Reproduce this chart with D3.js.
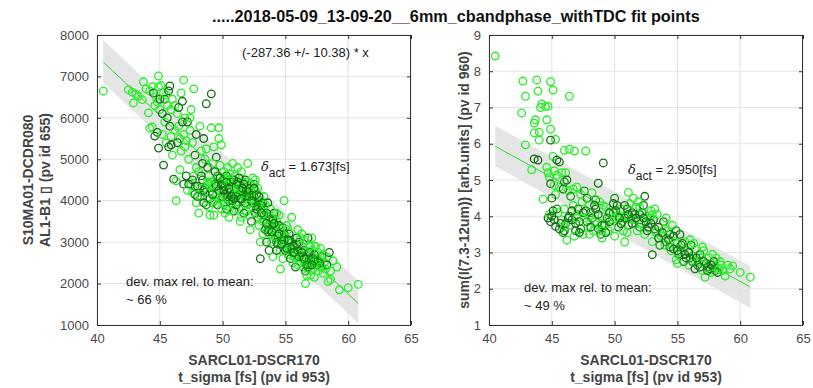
<!DOCTYPE html>
<html>
<head>
<meta charset="utf-8">
<script src="https://cdn.jsdelivr.net/npm/d3@7"></script>
<style>
  body { margin: 0; background: #fff; }
  text { font-family: "Liberation Sans", Arial, sans-serif; }
</style>
</head>
<body>
<div id="chart"></div>
<script>
const W = 813, H = 388;

// shared x ticks
const xTicks = [40, 45, 50, 55, 60, 65];
const leftYTicks = [1000, 2000, 3000, 4000, 5000, 6000, 7000, 8000];
const rightYTicks = [1, 2, 3, 4, 5, 6, 7, 8, 9];

// fit lines and bands (x ends, line, band hi, band lo)
const fitXs = [40.5, 60.8];
const leftFitY = [7350, 1520];
const leftBandHi = [7880, 2060];
const leftBandLo = [6850, 1040];
const rightFitY = [5.93, 2.05];
const rightBandHi = [6.5, 2.62];
const rightBandLo = [5.38, 1.47];

// points: [t_sigma, value, shade] shade 0 = light, 1 = dark, 2 = mid
const leftPoints = [
  [40.5,6650,0],[42.5,6680,0],[42.8,6620,0],[43.1,6570,0],[43.3,6520,0],[42.9,6360,0],[43.6,6440,0],[43.7,6870,0],[43.9,6700,0],[44.1,6120,0],
  [44.2,6650,0],[44.4,6750,0],[44.5,6600,1],[44.7,6500,0],[44.9,7010,0],[44.8,6380,0],[44.6,6300,0],[44.4,5780,0],[44.6,5560,1],[44.9,5270,1],
  [44.2,5750,0],[44.8,5650,1],[45.0,6200,0],[45.0,6450,1],[44.9,6750,0],[45.1,6780,0],[45.3,6600,0],[45.4,6450,1],[45.6,6300,0],[45.8,6770,1],
  [45.5,6550,0],[45.2,6100,1],[45.3,4860,1],[45.5,5400,0],[45.7,5300,1],[45.9,5550,0],[45.6,6000,1],[45.9,6200,0],[45.4,5900,0],[45.8,5800,1],
  [46.0,6450,0],[45.7,6650,1],[45.2,5600,0],[45.9,5350,1],[46.0,5100,0],[46.1,4520,1],[46.3,4480,0],[46.3,4000,0],[46.2,6300,0],[46.4,6100,0],
  [46.5,5800,0],[46.6,5500,0],[46.7,6600,0],[46.9,6910,0],[46.5,6250,1],[46.8,5900,1],[46.9,5600,0],[46.4,5400,1],[46.7,5200,0],[46.6,4750,0],
  [46.9,4400,1],[47.0,6000,0],[46.2,5700,0],[46.8,6400,1],[47.0,5300,0],[47.7,6700,0],[47.5,6200,0],[47.2,5900,1],[47.4,5700,0],[47.6,5400,0],
  [47.8,5100,1],[47.3,5000,0],[47.9,4800,0],[47.1,4600,1],[47.5,4400,0],[47.8,4150,1],[47.6,4200,0],[47.2,4250,0],[47.9,5600,1],[47.4,6000,0],
  [47.1,5450,0],[47.7,4600,0],[48.0,4350,1],[47.9,3950,0],[48.7,6340,1],[48.2,5800,0],[48.5,5500,1],[48.3,5200,0],[48.6,5000,0],[48.8,4800,1],
  [48.1,4700,0],[48.4,4500,1],[48.9,4400,0],[48.2,4300,0],[48.6,4200,1],[48.3,4100,0],[48.8,4050,0],[48.5,3950,1],[48.9,3850,0],[48.1,3700,0],
  [49.0,3650,0],[48.7,5250,0],[48.4,4900,1],[48.9,4600,0],[49.1,6580,1],[49.1,5760,0],[49.7,5760,0],[49.7,5500,0],[49.9,5350,0],[49.3,5300,0],
  [49.5,5050,1],[49.2,4900,0],[49.8,4850,0],[49.4,4700,1],[49.6,4550,0],[49.1,4450,0],[49.9,4400,1],[49.3,4300,0],[49.7,4250,1],[49.5,4150,0],
  [49.0,4050,1],[49.8,4100,0],[49.2,3950,0],[49.6,3900,1],[49.9,3800,0],[49.4,4000,0],[49.3,3650,0],[50.1,4700,0],[50.3,4600,1],[50.5,4500,0],
  [50.7,4450,1],[50.9,4300,0],[50.2,4350,1],[50.4,4250,0],[50.6,4200,1],[50.8,4150,0],[50.0,4100,1],[50.3,4050,0],[50.5,4000,1],[50.7,3950,0],
  [50.9,4050,1],[50.1,3900,0],[50.6,3850,0],[50.4,4800,0],[50.8,4900,0],[50.2,4150,1],[50.9,3750,1],[50.5,3600,0],[50.0,4500,0],[51.1,4400,1],
  [51.3,4300,0],[51.5,4250,1],[51.7,4200,0],[51.9,4100,1],[51.2,4150,0],[51.4,4050,1],[51.6,4000,0],[51.8,3950,1],[51.0,4600,0],[51.5,4700,0],
  [51.8,4500,1],[51.3,3800,0],[51.1,3900,1],[51.6,4450,0],[51.9,3750,0],[52.0,4900,0],[51.4,3500,0],[51.7,3700,1],[51.2,4800,0],[52.1,4300,1],
  [52.3,4200,0],[52.5,4100,1],[52.7,4000,0],[52.9,3900,1],[52.2,4000,0],[52.4,3850,0],[52.6,3700,1],[52.8,3600,0],[52.0,4450,0],[52.5,4400,1],
  [52.8,4300,0],[52.3,3500,1],[52.9,3400,0],[52.7,3800,1],[53.0,4000,0],[52.1,3650,0],[52.6,4500,0],[53.1,3900,1],[53.3,3800,0],[53.5,3700,1],
  [53.7,3600,0],[53.9,3500,1],[53.2,3500,0],[53.4,3300,1],[53.6,3400,0],[53.8,3200,0],[53.0,3000,0],[53.0,2600,1],[53.5,3000,1],[53.8,3800,0],
  [53.3,4100,0],[53.6,3950,1],[53.9,3000,0],[53.2,3200,0],[53.7,2800,1],[54.0,3300,0],[54.1,3700,1],[54.3,3500,0],[54.5,3400,1],[54.7,3300,0],
  [54.9,3200,1],[54.2,3100,0],[54.4,2950,1],[54.6,2800,0],[54.8,3000,0],[54.0,2650,0],[54.6,2350,0],[54.3,2800,1],[54.8,2600,0],[54.5,3650,0],
  [54.9,4000,0],[54.2,3400,0],[55.0,2800,1],[55.1,3400,0],[55.3,3200,1],[55.5,3000,0],[55.7,2900,1],[55.9,2800,0],[55.2,2700,0],[55.4,2600,1],
  [55.6,2500,0],[55.8,2400,1],[55.0,3100,0],[55.5,3600,0],[55.9,3100,1],[55.3,2850,0],[55.7,2650,0],[56.0,3300,0],[56.1,3000,1],[56.3,2900,0],
  [56.5,2800,1],[56.7,2700,0],[56.9,2600,1],[56.2,2500,0],[56.4,2400,0],[56.6,2300,1],[56.8,2500,0],[56.6,2000,0],[56.8,3100,1],[56.3,3200,0],
  [56.9,2900,0],[56.0,2450,0],[56.5,3050,0],[56.7,2200,0],[57.1,2800,0],[57.3,2700,1],[57.5,2600,0],[57.7,2500,1],[57.9,2400,0],[57.2,2350,0],
  [57.4,2900,0],[57.6,2300,0],[57.8,2850,0],[57.0,2200,0],[57.5,2450,1],[57.3,2150,0],[57.9,2650,1],[57.1,3100,0],[57.6,2750,0],[58.1,2500,0],
  [58.3,2650,0],[58.5,2750,1],[58.2,2350,0],[58.4,2050,0],[58.6,2100,0],[58.8,2550,0],[59.1,2400,0],[58.0,2250,0],[59.3,1850,0],[60.0,1900,0],
  [60.8,1980,0],[48.6,4300,2],[49.0,4200,0],[49.4,4400,2],[49.7,4050,0],[50.0,4350,2],[50.2,4550,0],[50.4,4100,1],[50.6,4400,0],[50.8,4000,2],
  [51.0,4250,0],[51.2,4450,2],[51.4,4200,0],[51.6,4300,1],[51.8,4050,0],[52.0,4200,2],[52.2,4400,0],[52.4,3950,2],[52.6,4250,0],[52.8,3850,2],
  [53.0,3650,0],[53.2,3950,2],[53.4,3550,0],[53.6,3250,2],[53.8,3400,0],[54.0,3550,2],[54.2,3250,0],[54.4,3150,2],[54.6,3050,0],[54.8,3350,2],
  [55.0,2950,0],[55.2,3050,2],[55.4,2800,0],[55.6,2750,2],[55.8,2650,0],[56.0,2800,2],[56.2,2700,0],[56.4,2650,2],[56.6,2550,0],[56.8,2400,2],
  [57.0,2550,0],[57.2,2600,2],[57.4,2450,0],[57.6,2550,2],[57.8,2400,0],[49.6,4600,2],[48.8,4450,0],[50.3,3800,2],[51.5,3600,0],[52.2,3300,0],
  [47.8,4350,2],[49.2,4150,1],[49.5,4350,1],[49.8,4550,1],[50.1,4250,1],[50.3,4450,2],[50.5,4300,1],[50.7,4100,1],[50.9,4500,1],[51.1,4100,2],
  [51.3,4550,1],[51.5,4050,1],[51.7,4400,1],[51.9,4250,1],[52.1,4100,2],[52.3,4000,1],[52.5,4300,1],[52.7,4150,2],[52.9,4100,1],[53.1,3700,1],
  [53.3,3650,2],[53.5,3450,1],[53.7,3300,2],[53.9,3250,1],[54.1,3450,1],[54.3,3000,2],[54.5,3200,1],[54.7,2950,1],[54.9,3050,2],[55.1,2850,1],
  [55.3,3050,1],[55.5,2850,2],[55.7,2750,1],[55.9,2950,1],[56.1,2650,2],[56.3,2750,1],[56.5,2600,1],[56.7,2450,2],[56.9,2750,1],[57.1,2450,1],
  [57.3,2550,2],[47.3,4400,1],[47.6,4500,1],[48.0,4100,2],[48.3,4600,1],[48.5,4250,1],[48.7,3900,2],[49.0,4350,0],[50.6,4650,0],[51.0,3800,0],
  [52.0,3900,0],[52.4,4550,0],[53.4,3900,0],[54.3,3700,0],[55.2,3300,0],[56.2,3100,0],[57.0,2900,0],[58.0,2700,0],[58.3,2450,1],[58.6,2300,0],
  [49.9,4000,0],[50.2,3700,0]
];

const rightPoints = [
  [40.5,8.42,0],[42.7,7.73,0],[43.8,7.76,0],[44.9,7.71,0],[43.9,7.45,0],[45.1,7.48,0],[42.9,7.31,0],[46.4,7.31,0],[44.1,7.00,0],[44.2,7.10,0],
  [44.5,7.03,0],[44.7,7.03,0],[42.6,6.85,0],[43.7,6.66,0],[43.6,6.57,0],[44.6,6.66,0],[43.6,6.30,0],[44.0,6.32,0],[44.9,6.40,0],[44.0,6.10,0],
  [45.3,6.12,0],[44.9,6.10,1],[42.9,5.97,0],[43.6,5.58,1],[43.9,5.55,1],[45.1,5.65,0],[45.4,5.55,1],[45.6,5.50,1],[46.0,5.82,0],[46.4,5.85,0],
  [46.8,5.80,0],[47.7,5.80,0],[49.1,5.47,1],[43.4,5.28,0],[44.6,5.35,0],[44.7,5.20,0],[44.8,5.08,0],[45.2,5.25,0],[45.4,5.13,0],[45.8,5.20,0],
  [46.1,5.20,0],[46.2,5.00,1],[44.9,4.90,1],[48.7,4.91,1],[51.1,4.66,0],[52.4,4.55,1],[45.6,4.80,0],[45.9,4.75,1],[46.3,4.70,0],[45.3,4.60,0],
  [46.7,4.75,0],[47.3,4.60,0],[47.8,4.50,1],[45.0,4.50,1],[44.3,4.47,0],[45.2,4.85,0],[46.0,4.95,2],[46.5,4.55,2],[47.0,4.80,0],[47.6,4.70,2],
  [48.2,4.65,0],[48.5,4.45,2],[44.7,3.95,1],[44.9,3.85,1],[45.3,3.72,1],[44.8,4.05,0],[45.1,4.15,1],[45.5,4.10,0],[45.8,3.90,0],[45.6,3.65,1],
  [46.0,4.20,0],[46.2,3.34,0],[46.4,4.00,1],[46.5,3.75,0],[46.7,4.30,0],[46.9,3.60,1],[47.0,4.05,0],[47.2,3.85,1],[47.4,4.40,0],[47.5,3.50,0],
  [47.7,4.15,1],[47.9,3.70,0],[48.0,4.30,0],[48.2,3.95,1],[48.3,3.60,0],[48.5,4.20,1],[48.6,3.80,0],[48.8,4.40,0],[48.9,3.50,1],[49.0,4.00,0],
  [49.2,3.75,1],[49.3,4.25,0],[49.5,3.60,0],[49.6,4.10,1],[49.8,3.90,0],[49.9,4.35,1],[50.0,3.45,0],[50.2,4.00,0],[50.3,3.70,1],[50.5,4.20,0],
  [50.6,3.85,0],[50.8,4.30,1],[50.8,3.29,0],[50.9,4.00,0],[51.1,3.75,1],[51.2,4.35,0],[51.4,4.10,1],[51.5,3.90,0],[51.7,4.25,0],[51.8,3.60,0],
  [52.0,4.05,1],[52.1,3.80,0],[52.3,4.30,1],[52.4,3.50,0],[52.6,4.00,0],[52.7,3.70,1],[52.9,4.15,0],[53.0,3.30,0],[53.0,2.94,1],[53.1,3.90,1],
  [53.3,3.55,0],[45.9,3.55,2],[46.1,3.80,2],[46.8,3.45,0],[47.1,4.20,2],[47.6,3.95,0],[48.1,4.10,2],[48.4,3.85,0],[48.7,3.65,2],[49.1,4.30,0],
  [49.4,3.95,2],[49.7,3.70,0],[50.1,4.15,2],[50.4,3.95,1],[50.7,3.60,0],[51.0,4.20,2],[51.3,3.95,0],[51.6,4.05,1],[51.9,4.40,0],[52.2,4.10,2],
  [52.5,3.85,1],[52.8,3.95,0],[53.2,4.20,0],[48.0,3.50,0],[49.0,3.40,0],[46.6,3.90,1],[47.3,3.65,2],[51.5,4.50,0],[50.0,4.50,2],[53.4,4.05,0],
  [53.5,3.70,1],[53.7,3.45,0],[53.9,3.85,1],[54.0,3.20,0],[54.2,3.60,0],[54.3,3.35,1],[54.5,3.05,0],[54.6,3.75,0],[54.7,3.45,1],[54.9,2.80,0],
  [55.0,3.25,0],[55.2,3.50,1],[55.3,3.00,0],[55.5,2.75,1],[55.6,3.30,0],[55.8,3.05,0],[55.9,2.65,0],[56.1,3.20,1],[56.2,2.90,0],[56.4,2.55,1],
  [56.5,3.10,0],[56.7,2.75,0],[56.8,2.95,1],[57.0,2.50,0],[57.1,3.05,0],[57.3,2.70,1],[57.2,2.32,0],[57.5,2.85,0],[57.6,2.55,1],[57.8,2.95,0],
  [58.0,2.60,0],[58.2,2.45,1],[58.4,2.75,0],[58.6,2.50,0],[58.8,2.35,0],[59.0,2.65,0],[59.4,2.63,0],[60.0,2.45,0],[60.8,2.32,0],[53.6,3.20,2],
  [54.1,3.95,0],[54.4,3.15,2],[54.8,3.30,0],[55.1,2.95,2],[55.4,3.25,1],[56.0,2.85,2],[56.3,3.25,0],[56.6,2.65,2],[56.9,2.85,0],[57.4,2.60,2],
  [57.9,2.75,1],[58.1,2.85,0],[57.7,2.45,0],[55.7,2.85,1],[54.9,3.60,2],[45.0,4.00,1],[45.2,3.90,1],[45.4,4.20,2],[45.7,3.80,1],[46.0,3.60,1],
  [46.3,3.95,1],[46.6,4.15,1],[46.9,3.80,1],[47.2,3.55,1],[47.5,4.10,1],[47.8,3.85,2],[48.1,3.70,1],[48.4,4.30,1],[48.7,4.05,1],[49.0,3.75,2],
  [49.3,3.55,1],[49.6,3.85,1],[49.9,4.10,2],[50.2,4.30,1],[50.5,3.80,1],[50.8,3.95,2],[51.1,4.05,1],[51.4,3.80,1],[51.7,3.95,1],[52.0,3.70,2],
  [52.3,3.95,1],[52.6,3.60,1],[52.9,3.80,1],[53.2,3.65,2],[53.5,3.40,1],[53.8,3.55,1],[54.1,3.30,2],[54.4,3.50,1],[54.7,3.10,1],[55.0,3.05,1],
  [55.3,3.20,2],[55.6,2.95,1],[55.9,3.00,1],[56.2,2.75,2],[56.5,2.85,1],[56.8,2.60,1],[57.1,2.75,2],[57.4,2.50,1],[57.7,2.65,1],[58.0,2.50,2],
  [46.0,3.70,0],[47.0,3.95,0],[48.0,4.00,0],[49.0,3.60,0],[50.0,3.95,0],[51.0,3.55,0],[52.0,4.25,0],[53.0,4.05,0],[54.0,3.65,0],[55.0,2.70,0],
  [56.0,3.35,0],[57.0,3.15,0],[58.3,2.55,0],[58.5,2.65,0],[59.2,2.55,0]
];

const shadeColors = ["#22f022", "#116f11", "#0b9d0b"];

const svg = d3.select("#chart").append("svg")
  .attr("width", W).attr("height", H)
  .style("background", "#fff");

// title, sized to span the same width as the original
const title = svg.append("text")
  .attr("x", 212).attr("y", 22)
  .attr("font-size", 15).attr("font-weight", "bold").attr("fill", "#111")
  .text(".....2018-05-09_13-09-20__6mm_cbandphase_withTDC fit points");
const tw = title.node().getComputedTextLength();
if (tw > 0) title.attr("font-size", 15 * 488 / tw);

function panel(cfg) {
  const x = d3.scaleLinear().domain([40, 65]).range([cfg.left, cfg.left + 314]);
  const y = d3.scaleLinear().domain(cfg.yDomain).range([325, 35]);
  const g = svg.append("g");

  // grid
  g.selectAll(".gx").data(xTicks).enter().append("line")
    .attr("x1", d => x(d)).attr("x2", d => x(d))
    .attr("y1", 35).attr("y2", 325)
    .attr("stroke", "#e3e3e3");
  g.selectAll(".gy").data(cfg.yTicks).enter().append("line")
    .attr("x1", cfg.left).attr("x2", cfg.left + 314)
    .attr("y1", d => y(d)).attr("y2", d => y(d))
    .attr("stroke", "#e3e3e3");

  // confidence band
  const band = [[fitXs[0], cfg.bandHi[0]], [fitXs[1], cfg.bandHi[1]],
                [fitXs[1], cfg.bandLo[1]], [fitXs[0], cfg.bandLo[0]]];
  g.append("path")
    .attr("d", d3.line().x(d => x(d[0])).y(d => y(d[1]))(band) + "Z")
    .attr("fill", "#e2e2e2").attr("fill-opacity", 0.9);

  // fit line
  g.append("line")
    .attr("x1", x(fitXs[0])).attr("y1", y(cfg.fitY[0]))
    .attr("x2", x(fitXs[1])).attr("y2", y(cfg.fitY[1]))
    .attr("stroke", "#2fd82f").attr("stroke-width", 1);

  // points
  g.selectAll(".pt").data(cfg.points).enter().append("circle")
    .attr("cx", d => x(d[0])).attr("cy", d => y(d[1]))
    .attr("r", 3.8)
    .attr("fill", "none")
    .attr("stroke", d => shadeColors[d[2]])
    .attr("stroke-width", 1.3);

  // axes, ticks inward on all sides
  const fontCol = "#4a4a4a";
  g.append("g").attr("transform", "translate(0,325)")
    .call(d3.axisBottom(x).tickValues(xTicks).tickSize(-4).tickPadding(9));
  g.append("g").attr("transform", `translate(${cfg.left},0)`)
    .call(d3.axisLeft(y).tickValues(cfg.yTicks).tickSize(-4).tickPadding(8)
      .tickFormat(d3.format("d")));
  g.append("g").attr("transform", "translate(0,35)")
    .call(d3.axisTop(x).tickValues(xTicks).tickSize(-4).tickFormat(""));
  g.append("g").attr("transform", `translate(${cfg.left + 314},0)`)
    .call(d3.axisRight(y).tickValues(cfg.yTicks).tickSize(-4).tickFormat(""));
  g.selectAll(".domain").remove();
  g.selectAll(".tick line").attr("stroke", "#333");
  g.selectAll(".tick text")
    .attr("font-family", "Liberation Sans, Arial, sans-serif")
    .attr("font-size", 13).attr("fill", fontCol);

  g.append("rect")
    .attr("x", cfg.left + 0.5).attr("y", 35.5)
    .attr("width", 313).attr("height", 290)
    .attr("fill", "none").attr("stroke", "#333").attr("stroke-width", 1);

  // x label
  const cx = cfg.left + 157;
  g.append("text").attr("x", cx).attr("y", 365).attr("text-anchor", "middle")
    .attr("font-size", 14).attr("font-weight", "bold").attr("fill", "#444")
    .text("SARCL01-DSCR170");
  g.append("text").attr("x", cx).attr("y", 382).attr("text-anchor", "middle")
    .attr("font-size", 14).attr("font-weight", "bold").attr("fill", "#444")
    .text("t_sigma [fs] (pv id 953)");

  // y label
  cfg.yLabel.forEach((t, i) => {
    g.append("text")
      .attr("transform", `translate(${cfg.yLabelX[i]},180) rotate(-90)`)
      .attr("text-anchor", "middle")
      .attr("font-size", 14).attr("font-weight", "bold").attr("fill", "#444")
      .text(t);
  });

  // delta annotation
  const dt = g.append("text").attr("x", cfg.deltaPos[0]).attr("y", cfg.deltaPos[1])
    .attr("font-size", 13).attr("fill", "#222");
  dt.append("tspan").attr("font-style", "italic").attr("font-family", "DejaVu Serif, serif").text("δ");
  dt.append("tspan").attr("dy", 6).attr("font-size", 12).text("act");
  dt.append("tspan").attr("dy", -6).text(" = " + cfg.delta + "[fs]");

  // deviation annotation
  g.append("text").attr("x", cfg.devPos[0]).attr("y", cfg.devPos[1])
    .attr("font-size", 13).attr("fill", "#222").text("dev. max rel. to mean:");
  g.append("text").attr("x", cfg.devPos[0]).attr("y", cfg.devPos[1] + 18)
    .attr("font-size", 13).attr("fill", "#222").text("~ " + cfg.dev + " %");

  return g;
}

const gl = panel({
  left: 97, yDomain: [1000, 8000], yTicks: leftYTicks,
  points: leftPoints, fitY: leftFitY, bandHi: leftBandHi, bandLo: leftBandLo,
  yLabel: ["S10MA01-DCDR080", "AL1-B1 \u25AF (pv id 655)"], yLabelX: [33, 50],
  deltaPos: [261, 171], delta: "1.673", devPos: [126, 286], dev: 66
});
gl.append("text").attr("x", 242).attr("y", 57)
  .attr("font-size", 13).attr("fill", "#222")
  .text("(-287.36 +/- 10.38) * x");

panel({
  left: 489, yDomain: [1, 9], yTicks: rightYTicks,
  points: rightPoints, fitY: rightFitY, bandHi: rightBandHi, bandLo: rightBandLo,
  yLabel: ["sum(I(7.3-12um)) [arb.units] (pv id 960)"], yLabelX: [469],
  deltaPos: [628, 174], delta: "2.950", devPos: [524, 292], dev: 49
});
</script>
</body>
</html>
